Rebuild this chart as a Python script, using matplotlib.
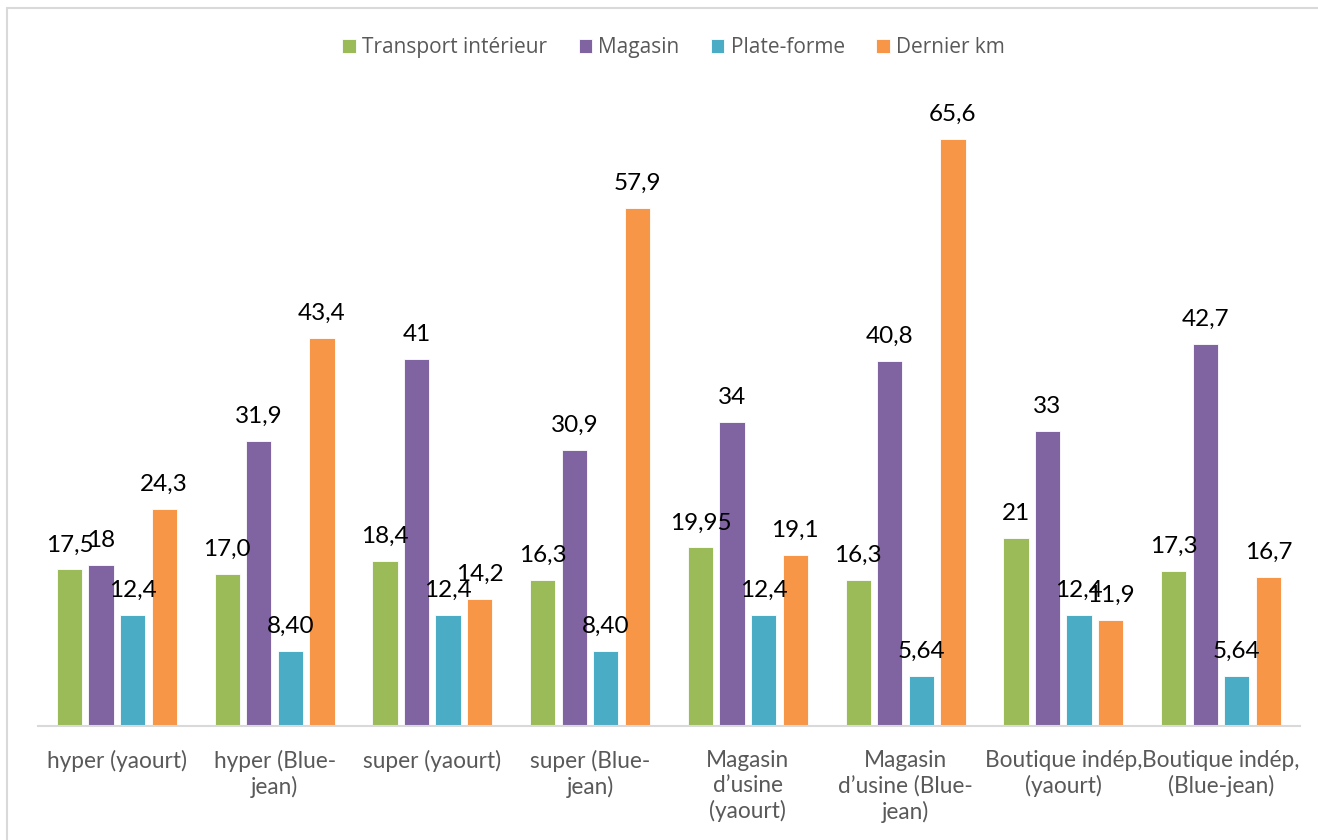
import matplotlib
matplotlib.use("Agg")
import matplotlib.pyplot as plt
from matplotlib.patches import Rectangle
import numpy as np

categories = ["hyper (yaourt)", "hyper (Blue-\njean)", "super (yaourt)", "super (Blue-\njean)",
              "Magasin\nd\u2019usine\n(yaourt)", "Magasin\nd\u2019usine (Blue-\njean)",
              "Boutique indép,\n(yaourt)", "Boutique indép,\n(Blue-jean)"]
series_names = ["Transport intérieur", "Magasin", "Plate-forme", "Dernier km"]
transport = [17.5, 17.0, 18.4, 16.3, 19.95, 16.3, 21, 17.3]
magasin = [18, 31.9, 41, 30.9, 34, 40.8, 33, 42.7]
plateforme = [12.4, 8.40, 12.4, 8.40, 12.4, 5.64, 12.4, 5.64]
dernier = [24.3, 43.4, 14.2, 57.9, 19.1, 65.6, 11.9, 16.7]
transport_lbl = ["17,5", "17,0", "18,4", "16,3", "19,95", "16,3", "21", "17,3"]
magasin_lbl = ["18", "31,9", "41", "30,9", "34", "40,8", "33", "42,7"]
plateforme_lbl = ["12,4", "8,40", "12,4", "8,40", "12,4", "5,64", "12,4", "5,64"]
dernier_lbl = ["24,3", "43,4", "14,2", "57,9", "19,1", "65,6", "11,9", "16,7"]

colors = ["#9BBB59", "#8064A2", "#4BACC6", "#F79646"]
values = [transport, magasin, plateforme, dernier]
labels = [transport_lbl, magasin_lbl, plateforme_lbl, dernier_lbl]

fig = plt.figure(figsize=(13.18, 8.4), dpi=100)
ax = fig.add_axes([0.0288, 0.1357, 0.9575, 0.767])

x = np.arange(len(categories))
width = 0.16
for j, (vals, lbls, col, name) in enumerate(zip(values, labels, colors, series_names)):
    pos = x + (j - 1.5) * 0.2
    ax.bar(pos, vals, width=width, color=col, edgecolor="white", linewidth=0.6, label=name, zorder=2)
    for p, v, t in zip(pos, vals, lbls):
        ax.annotate(t, (p, v), xytext=(0, 13), textcoords="offset points",
                    ha="center", va="baseline", fontsize=17.5, family="Lato", color="black")

ax.set_xlim(-0.5, 7.5)
ax.set_ylim(0, 72)
ax.set_yticks([])
for s in ["top", "right", "left"]:
    ax.spines[s].set_visible(False)
ax.spines["bottom"].set_color("#D9D9D9")
ax.spines["bottom"].set_linewidth(1.5)
ax.set_xticks(x)
ax.set_xticklabels(categories, fontsize=16.3, family="Lato", color="#595959", linespacing=1.25)
ax.tick_params(axis="x", length=0, pad=17)
for t in ax.get_xticklabels():
    t.set_verticalalignment("top")

leg = fig.legend(loc="center", bbox_to_anchor=(0.511, 0.943), ncol=4, frameon=False,
                 prop={"family": "Open Sans", "size": 15}, handlelength=0.65, handleheight=0.65,
                 handletextpad=0.3, columnspacing=1.5, labelcolor="#595959")

fig.patches.append(Rectangle((7 / 1318, -0.1), 1.2, 1.0905, transform=fig.transFigure,
                             fill=False, edgecolor="#D9D9D9", linewidth=1.5))

fig.savefig("out.png", dpi=100)
